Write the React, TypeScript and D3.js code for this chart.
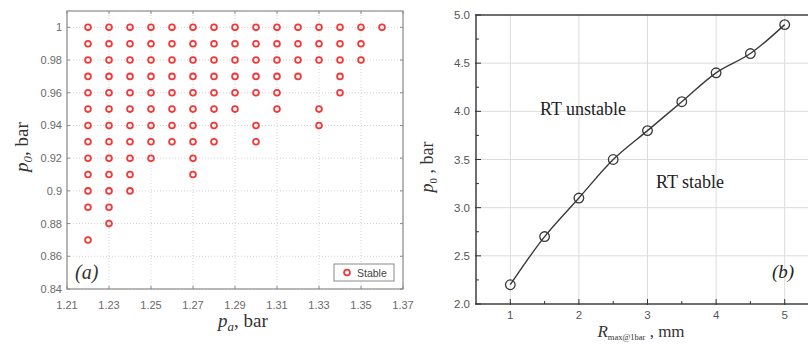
import React from 'react';
import * as d3 from 'd3';

// (a) stable points: one row per p0 level, listing the pa values that were stable
const p0Levels = [1.0, 0.99, 0.98, 0.97, 0.96, 0.95, 0.94, 0.93, 0.92, 0.91, 0.9, 0.89, 0.88, 0.87];
const stablePa = [
  [1.22, 1.23, 1.24, 1.25, 1.26, 1.27, 1.28, 1.29, 1.3, 1.31, 1.32, 1.33, 1.34, 1.35, 1.36],
  [1.22, 1.23, 1.24, 1.25, 1.26, 1.27, 1.28, 1.29, 1.3, 1.31, 1.32, 1.33, 1.34, 1.35],
  [1.22, 1.23, 1.24, 1.25, 1.26, 1.27, 1.28, 1.29, 1.3, 1.31, 1.32, 1.33, 1.34, 1.35],
  [1.22, 1.23, 1.24, 1.25, 1.26, 1.27, 1.28, 1.29, 1.3, 1.31, 1.32, 1.34],
  [1.22, 1.23, 1.24, 1.25, 1.26, 1.27, 1.28, 1.29, 1.3, 1.31, 1.34],
  [1.22, 1.23, 1.24, 1.25, 1.26, 1.27, 1.28, 1.29, 1.31, 1.33],
  [1.22, 1.23, 1.24, 1.25, 1.26, 1.27, 1.28, 1.3, 1.33],
  [1.22, 1.23, 1.24, 1.25, 1.26, 1.27, 1.28, 1.3],
  [1.22, 1.23, 1.24, 1.25, 1.27],
  [1.22, 1.23, 1.24, 1.27],
  [1.22, 1.23, 1.24],
  [1.22, 1.23],
  [1.23],
  [1.22],
];
const paTicks = [1.21, 1.23, 1.25, 1.27, 1.29, 1.31, 1.33, 1.35, 1.37];
const p0TicksA = [0.84, 0.86, 0.88, 0.9, 0.92, 0.94, 0.96, 0.98, 1];

// (b) critical p0 vs bubble radius
const rMax = [1, 1.5, 2, 2.5, 3, 3.5, 4, 4.5, 5];
const p0Crit = [2.2, 2.7, 3.1, 3.5, 3.8, 4.1, 4.4, 4.6, 4.9];
const rTicks = [1, 2, 3, 4, 5];
const p0TicksB = [2.0, 2.5, 3.0, 3.5, 4.0, 4.5, 5.0];

const serif = '"Liberation Serif", "DejaVu Serif", serif';
const sans = '"Liberation Sans", Arial, sans-serif';

function PanelA() {
  const x = d3.scaleLinear().domain([1.21, 1.37]).range([67, 403]);
  const y = d3.scaleLinear().domain([0.84, 1.01]).range([289, 11]);
  const [x0, x1] = x.range();
  const [y0, y1] = y.range();
  const pts = p0Levels.flatMap((p0, i) => stablePa[i].map((pa) => ({ pa, p0 })));
  const axisCol = '#8a8a8a';
  return (
    <g>
      {paTicks.map((t) => (
        <line key={'gx' + t} x1={x(t)} x2={x(t)} y1={y0} y2={y1} stroke="#d4d4d4" strokeDasharray="1,2" />
      ))}
      {p0TicksA.map((t) => (
        <line key={'gy' + t} x1={x0} x2={x1} y1={y(t)} y2={y(t)} stroke="#d4d4d4" strokeDasharray="1,2" />
      ))}
      <rect x={x0} y={y1} width={x1 - x0} height={y0 - y1} fill="none" stroke={axisCol} strokeWidth={1.2} />
      {paTicks.map((t) => (
        <g key={'tx' + t}>
          <line x1={x(t)} x2={x(t)} y1={y0} y2={y0 - 3} stroke={axisCol} />
          <line x1={x(t)} x2={x(t)} y1={y1} y2={y1 + 3} stroke={axisCol} />
          <text x={x(t)} y={y0 + 20} textAnchor="middle" fontFamily={sans} fontSize={11} fill="#6a6a6a">
            {d3.format('.2f')(t)}
          </text>
        </g>
      ))}
      {p0TicksA.map((t) => (
        <g key={'ty' + t}>
          <line x1={x0} x2={x0 + 3} y1={y(t)} y2={y(t)} stroke={axisCol} />
          <line x1={x1} x2={x1 - 3} y1={y(t)} y2={y(t)} stroke={axisCol} />
          <text x={x0 - 5} y={y(t) + 4} textAnchor="end" fontFamily={sans} fontSize={11} fill="#6a6a6a">
            {t === 1 ? '1' : d3.format('~g')(t)}
          </text>
        </g>
      ))}
      {pts.map((d, i) => (
        <circle key={i} cx={x(d.pa)} cy={y(d.p0)} r={2.9} fill="none" stroke="#f03a3a" strokeWidth={1.8} />
      ))}
      <text x={75} y={279} fontFamily={serif} fontSize={20} fontStyle="italic" fill="#333">
        (a)
      </text>
      <rect x={334} y={264} width={60} height={17} fill="#fff" stroke="#8a8a8a" />
      <circle cx={347} cy={272.5} r={2.9} fill="none" stroke="#f03a3a" strokeWidth={1.8} />
      <text x={357} y={276.5} fontFamily={sans} fontSize={10.5} fill="#444">
        Stable
      </text>
      <text x={243} y={327} textAnchor="middle" fontFamily={serif} fontSize={19} fill="#333">
        <tspan fontStyle="italic">p</tspan>
        <tspan fontStyle="italic" fontSize={13} dy={4}>a</tspan>
        <tspan dy={-4}>, bar</tspan>
      </text>
      <text transform="translate(28,147) rotate(-90)" textAnchor="middle" fontFamily={serif} fontSize={19} fill="#333">
        <tspan fontStyle="italic">p</tspan>
        <tspan fontStyle="italic" fontSize={13} dy={4}>0</tspan>
        <tspan dy={-4}>, bar</tspan>
      </text>
    </g>
  );
}

function PanelB() {
  const x = d3.scaleLinear().domain([0.5, 5.5]).range([476, 819]);
  const y = d3.scaleLinear().domain([2, 5]).range([304, 15]);
  const [x0, x1] = x.range();
  const [y0, y1] = y.range();
  const data = rMax.map((r, i) => ({ r, p: p0Crit[i] }));
  const line = d3
    .line<{ r: number; p: number }>()
    .x((d) => x(d.r))
    .y((d) => y(d.p))
    .curve(d3.curveCatmullRom);
  const minorX = d3.range(1.5, 5.5, 1);
  const minorY = d3.range(2.25, 5, 0.5);
  const ax = '#333';
  return (
    <g>
      {rTicks.map((t) => (
        <line key={'gx' + t} x1={x(t)} x2={x(t)} y1={y0} y2={y1} stroke="#dcdcdc" />
      ))}
      {p0TicksB.slice(1, -1).map((t) => (
        <line key={'gy' + t} x1={x0} x2={x1} y1={y(t)} y2={y(t)} stroke="#dcdcdc" />
      ))}
      <rect x={x0} y={y1} width={x1 - x0} height={y0 - y1} fill="none" stroke={ax} strokeWidth={1.4} />
      {rTicks.map((t) => (
        <g key={'tx' + t}>
          <line x1={x(t)} x2={x(t)} y1={y0 + 1} y2={y0 - 5} stroke={ax} />
          <text x={x(t)} y={y0 + 15} textAnchor="middle" fontFamily={sans} fontSize={11.5} fill="#555">
            {t}
          </text>
        </g>
      ))}
      {minorX.map((t) => (
        <line key={'mx' + t} x1={x(t)} x2={x(t)} y1={y0} y2={y0 - 3} stroke={ax} />
      ))}
      {p0TicksB.map((t) => (
        <g key={'ty' + t}>
          <line x1={x0 - 1} x2={x0 + 5} y1={y(t)} y2={y(t)} stroke={ax} />
          <text x={x0 - 6} y={y(t) + 4} textAnchor="end" fontFamily={sans} fontSize={11.5} fill="#555">
            {d3.format('.1f')(t)}
          </text>
        </g>
      ))}
      {minorY.map((t) => (
        <line key={'my' + t} x1={x0} x2={x0 + 3} y1={y(t)} y2={y(t)} stroke={ax} />
      ))}
      <path d={line(data) ?? ''} fill="none" stroke="#3a3a3a" strokeWidth={1.4} />
      {data.map((d, i) => (
        <circle key={i} cx={x(d.r)} cy={y(d.p)} r={4.8} fill="none" stroke="#3a3a3a" strokeWidth={1.3} />
      ))}
      <text x={540} y={115} fontFamily={serif} fontSize={18} fill="#222">
        RT unstable
      </text>
      <text x={656} y={188} fontFamily={serif} fontSize={18} fill="#222">
        RT stable
      </text>
      <text x={772} y={278} fontFamily={serif} fontSize={19} fontStyle="italic" fill="#222">
        (b)
      </text>
      <text x={641} y={337} textAnchor="middle" fontFamily={serif} fontSize={17} fill="#333">
        <tspan fontStyle="italic">R</tspan>
        <tspan fontSize={8.5} dy={3}>max@1bar</tspan>
        <tspan dy={-3}> , mm</tspan>
      </text>
      <text transform="translate(433,167) rotate(-90)" textAnchor="middle" fontFamily={serif} fontSize={18} fill="#333">
        <tspan fontStyle="italic">p</tspan>
        <tspan fontSize={11} dy={4}>0</tspan>
        <tspan dy={-4}> , bar</tspan>
      </text>
    </g>
  );
}

export default function App() {
  return (
    <div style={{ position: 'absolute', left: 0, top: 0 }}>
      <svg width={808} height={344} style={{ display: 'block', background: '#fff' }}>
        <PanelA />
        <PanelB />
      </svg>
    </div>
  );
}
